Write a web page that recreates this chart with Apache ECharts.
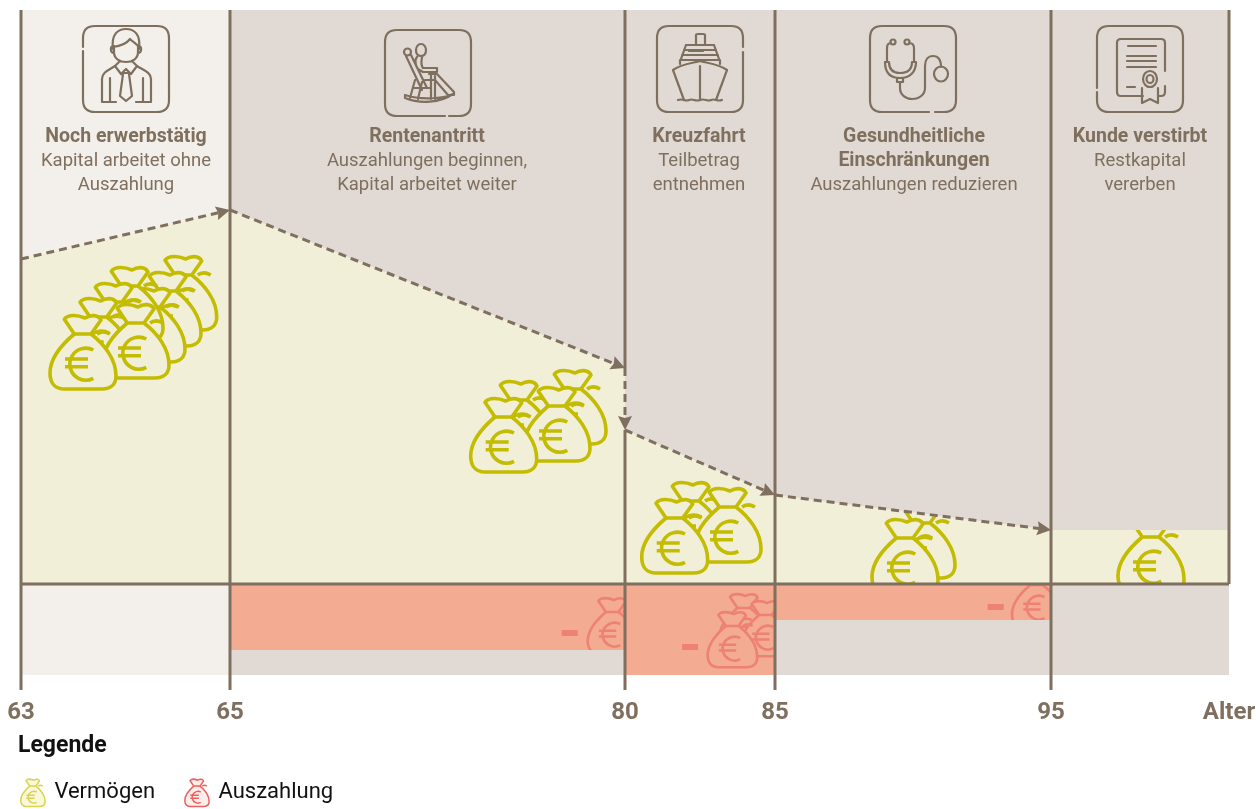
<!DOCTYPE html>
<html><head><meta charset="utf-8">
<style>html,body{margin:0;padding:0;background:#fff}#c{width:1256px;height:809px}</style>
<script src="https://cdn.jsdelivr.net/npm/echarts@6/dist/echarts.min.js"></script>
</head><body><div id="c"></div>
<script>
// ---- data ----
const ageLabels = ['63','65','80','85','95','Alter'];
const stageEdges = [0,209,604,754,1030,1208];
const wealthX = [0,209,604,604,754,1030,1030,1208];
const wealthY = [325,374,216,154,89,54,54,54];
const payoutStart = [209,604,754];
const payoutEnd = [604,754,1030];
const payoutY = [-66,-91,-36];
const titleLines = [['Noch erwerbstätig'],['Rentenantritt'],['Kreuzfahrt'],['Gesundheitliche','Einschränkungen'],['Kunde verstirbt']];
const textLines = [['Kapital arbeitet ohne','Auszahlung'],['Auszahlungen beginnen,','Kapital arbeitet weiter'],['Teilbetrag','entnehmen'],['Auszahlungen reduzieren'],['Restkapital','vererben']];
const textCenterX = [105,406,678,893,1119];
const textTopY = [447,447,447,447,447];
const iconX = [62,364,636,849,1076];
const iconY = [558,554,558,558,558];
const wealthBagX = [129.7,114,98,76,60,44.7,82,29, 519,465,503,449.7, 637,674,620.7, 868,851, 1097];
const wealthBagY = [329,313,297,318,302,287,281,270, 215,204,198,187, 103,97,86, 81,66, 67];
const payoutBagX = [566.7, 698.3,720,686.7, 991];
const payoutBagY = [-13, -9,-16,-27, 14];
const payoutBagBand = [0, 1,1,1, 2];
const minusX = [540.7,661,966.7];
const minusY = [-46,-60,-20];
const axisBottom = -106;

const BROWN='#7f6f5e', PALE='#f3f0eb', TAUPE='#e1dad4', CREAM='#f1efd8', SALMON='#f3ab91', RED='#ee8175', OLIVE='#c3bc00';
const FONT='Roboto';
const edge = 'M0,0L0,0M66,76L66,76';
const BAG = 'M14.3,5.3 C18,0 28,1 35,4 C40,1 48,0 51,6 L41,20 H24.3 Z M24.3,20 C10,32 0,45 0,59 C0,70 6,75 14,75 H52 C61,75 66,70 66,62 C66,45 54,30 41,20 M47,20 C51,17 55,17 60,20 M43.3,36 A16,16 0 1,0 43.3,64.3 M15,45 H38 M15,52.7 H38 ';
const ICONS = [
 'M0,25 V74 Q0,86 12,86 H74 Q86,86 86,74 V12 Q86,0 74,0 H12 Q0,0 0,12 V21 M30,23 C28,8 35,3 43,3 C51,3 58,8 56,23 M30,21 C38,20 44,17 47,13 C50,16 54,18 56,21 M31,20 V26 C31,33 37,36 43,36 C49,36 55,33 55,26 V20 M30,20 C27,20 27,27 31,27 M56,20 C59,20 59,27 55,27 M19,76 V53 C19,46 26,44 32,40 M54,40 C60,44 68,46 68,53 V76 M19,76 H33 M53,76 H68 M27,76 V52 M60,76 V52 M36,36 L32,40 L38,48 L43,43 L48,48 L54,40 L50,36 M40,48 L37,70 L43,75 L49,70 L46,48 M39,47 L47,47',
 'M64,86 H74 Q86,86 86,74 V12 Q86,0 74,0 H12 Q0,0 0,12 V74 Q0,86 12,86 H60 M36,14 C33,14 31,17 31,20 C31,24 33,26 36,26 C39,26 41,24 41,20 C41,17 39,14 36,14 M19,22 A3.5,3.5 0 1,1 26,22 A3.5,3.5 0 1,1 19,22 M21,26 L37,60 M26,25 L42,58 M32,27 C29,30 31,37 33,39 L38,42 H52 V38 H38 C35,34 37,29 37,27 M44,44 H52 L69,62 V65 L63,65 L50,50 H40 M20,68 C35,74 55,73 68,64 C58,69 35,70 20,65 Z M30,50 L25,68 M37,52 L33,69 M46,44 V69 M50,46 V69 M28,58 H46',
 'M86,26 V74 Q86,86 74,86 H12 Q0,86 0,74 V12 Q0,0 12,0 H74 Q86,0 86,12 V21 M39,19 V9 Q39,8 41,8 H46 Q48,8 48,9 V19 M29,19 H57 M29,19 L24,33 M57,19 L62,33 M27,24 H59 M32,25 H46 M25,29 H61 M23,34 H63 M23,34 V38 M63,34 V38 M16,44 C24,38 36,37 43,35 C50,37 62,38 70,44 L59,74 M16,44 L27,74 M43,40 V74 M21,74 C26,72 28,76 32,74 C36,72 38,76 43,74 C48,72 50,76 54,74 C58,72 60,76 65,74',
 'M65,86 H74 Q86,86 86,74 V12 Q86,0 74,0 H12 Q0,0 0,12 V74 Q0,86 12,86 H59 M20.5,16 A2.5,2.5 0 1,1 25.5,16 A2.5,2.5 0 1,1 20.5,16 M34.5,16 A2.5,2.5 0 1,1 39.5,16 A2.5,2.5 0 1,1 34.5,16 M21,17 C18,17 17,19 17,22 V36 M39,17 C42,17 44,19 44,22 V36 M15,36 H19 C19,44 24,47 30,47 C37,47 42,44 42,36 H46 C46,46 40,52 30,52 C20,52 15,46 15,36 Z M27,52 V56 H33 V52 M30,56 V62 C30,69 36,73 42,73 C50,73 55,68 55,62 V40 C55,34 58,30 63,30 C68,30 71,34 71,41 M64,48 A7,7.5 0 1,1 78,48 A7,7.5 0 1,1 64,48',
 'M0,66 V74 Q0,86 12,86 H74 Q86,86 86,74 V12 Q86,0 74,0 H12 Q0,0 0,12 V62 M46,70 H24 Q20,70 20,66 V17 Q20,13 24,13 H64 Q68,13 68,17 V45 M68,60 V66 Q68,70 64,70 H62 M31,20 H59 M30,30 H59 M30,35 H59 M30,41 H59 M30,61 H38 M46,53 A7,8 0 1,1 60,53 A7,8 0 1,1 46,53 M49.5,53 A3.5,4 0 1,1 56.5,53 A3.5,4 0 1,1 49.5,53 M45,62 V77 L53,73 L61,77 V62'
];

function custom(name,z,rows,fn){
  return {type:'custom',name,z,data:rows,silent:true,clip:false,animation:false,renderItem:fn,
    encode:{x:0,y:1},tooltip:{show:false}};
}
function wealthPoly(api){ const pts=wealthX.map((x,i)=>api.coord([x,wealthY[i]])); pts.push(api.coord([1208,0]),api.coord([0,0])); return pts; }
function bagEl(x,y,s,stroke,fill,w,clipPath){
  return {type:'path',shape:{pathData:edge+BAG,x,y,width:66*s,height:76*s,layout:'cover'},
    style:{stroke,fill,lineWidth:w,lineJoin:'round'},clipPath};
}
const dashSegments=[[0,1],[1,2],[2,3],[3,4],[4,5]];

const series=[
  custom('panels',1,stageEdges.slice(0,-1).map((x,i)=>[x,574,stageEdges[i+1],-91,i]),(p,api)=>{
    const a=api.coord([api.value(0),api.value(1)]),b=api.coord([api.value(2),api.value(3)]);
    return {type:'rect',shape:{x:a[0],y:a[1],width:b[0]-a[0],height:b[1]-a[1]},style:{fill:api.value(4)===0?PALE:TAUPE}};
  }),
  {type:'line',name:'area',z:2,data:wealthX.map((x,i)=>[x,wealthY[i]]),symbol:'none',silent:true,clip:false,
    lineStyle:{width:0},areaStyle:{color:CREAM,opacity:1,origin:0},animation:false},
  custom('payout',2,payoutStart.map((x,i)=>[x,0,payoutEnd[i],payoutY[i]]),(p,api)=>{
    const a=api.coord([api.value(0),api.value(1)]),b=api.coord([api.value(2),api.value(3)]);
    return {type:'rect',shape:{x:a[0],y:a[1],width:b[0]-a[0],height:b[1]-a[1]},style:{fill:SALMON}};
  }),
  custom('Vermögen',3,wealthBagX.map((x,i)=>[x,wealthBagY[i]]),(p,api)=>{
    const a=api.coord([api.value(0),api.value(1)]);
    return bagEl(a[0],a[1],1,OLIVE,CREAM,3.6,{type:'polygon',shape:{points:wealthPoly(api)}});
  }),
  custom('Auszahlung',3,payoutBagX.map((x,i)=>[x,payoutBagY[i],payoutBagBand[i]]),(p,api)=>{
    const a=api.coord([api.value(0),api.value(1)]),k=api.value(2);
    const c=api.coord([payoutStart[k],0]),d=api.coord([payoutEnd[k],payoutY[k]]);
    return bagEl(a[0],a[1],0.75,RED,SALMON,2.6,{type:'rect',shape:{x:c[0],y:c[1],width:d[0]-c[0],height:d[1]-c[1]}});
  }),
  custom('minus',3,minusX.map((x,i)=>[x,minusY[i]]),(p,api)=>{
    const a=api.coord([api.value(0),api.value(1)]);
    return {type:'rect',shape:{x:a[0],y:a[1],width:16,height:6},style:{fill:RED}};
  }),
  custom('rules',4,[
    [stageEdges[0],574,stageEdges[0],axisBottom],[stageEdges[1],574,stageEdges[1],axisBottom],
    [stageEdges[2],574,stageEdges[2],wealthY[2]],[stageEdges[2],wealthY[3],stageEdges[2],axisBottom],
    [stageEdges[3],574,stageEdges[3],axisBottom],[stageEdges[4],574,stageEdges[4],axisBottom],
    [stageEdges[5],574,stageEdges[5],0],[stageEdges[0],0,stageEdges[5],0]
  ],(p,api)=>{
    const a=api.coord([api.value(0),api.value(1)]),b=api.coord([api.value(2),api.value(3)]);
    return {type:'line',shape:{x1:a[0],y1:a[1],x2:b[0],y2:b[1]},style:{stroke:BROWN,lineWidth:3}};
  }),
  custom('path',5,dashSegments.map(s=>[wealthX[s[0]],wealthY[s[0]],wealthX[s[1]],wealthY[s[1]]]),(p,api)=>{
    const a=api.coord([api.value(0),api.value(1)]),b=api.coord([api.value(2),api.value(3)]);
    const ang=Math.atan2(b[1]-a[1],b[0]-a[0]),ux=Math.cos(ang),uy=Math.sin(ang),nx=-uy,ny=ux;
    const L=14,W=7,base=[b[0]-ux*L,b[1]-uy*L],notch=[b[0]-ux*(L-2),b[1]-uy*(L-2)];
    return {type:'group',children:[
      {type:'line',shape:{x1:a[0],y1:a[1],x2:notch[0],y2:notch[1]},style:{stroke:BROWN,lineWidth:3,lineDash:[8,5]}},
      {type:'polygon',shape:{points:[b,[base[0]+nx*W,base[1]+ny*W],notch,[base[0]-nx*W,base[1]-ny*W]]},style:{fill:BROWN}}
    ]};
  }),
  custom('icons',5,iconX.map((x,i)=>[x,iconY[i],i]),(p,api)=>{
    const a=api.coord([api.value(0),api.value(1)]);
    return {type:'path',shape:{pathData:ICONS[api.value(2)],x:a[0],y:a[1],width:86,height:86,layout:'cover'},
      style:{stroke:BROWN,fill:'none',lineWidth:2.2,lineJoin:'round',lineCap:'round'}};
  }),
  custom('texts',5,textCenterX.map((x,i)=>[x,textTopY[i],i]),(p,api)=>{
    const a=api.coord([api.value(0),api.value(1)]),i=api.value(2);
    const kids=[];let row=0;
    titleLines[i].forEach(t=>{kids.push({type:'text',x:a[0],y:a[1]+24*row++,style:{text:t,align:'center',verticalAlign:'middle',fill:BROWN,font:'bold 19.5px '+FONT}})});
    textLines[i].forEach(t=>{kids.push({type:'text',x:a[0],y:a[1]+24*row++,style:{text:t,align:'center',verticalAlign:'middle',fill:BROWN,font:'18.5px '+FONT}})});
    return {type:'group',children:kids};
  })
];

const chart=echarts.init(document.getElementById('c'),null,{renderer:'canvas'});
chart.setOption({
  animation:false,backgroundColor:'#fff',
  grid:{left:21,right:27,top:10,bottom:134,containLabel:false,outerBoundsMode:'none'},
  title:{text:'Legende',left:13,top:730,textStyle:{fontFamily:FONT,fontWeight:'bold',fontSize:23,color:'#111'}},
  legend:{left:20,top:778,padding:0,orient:'horizontal',selectedMode:false,itemWidth:25,itemHeight:28,itemGap:29,
    textStyle:{fontFamily:FONT,fontSize:22,color:'#111',padding:[3,0,0,4]},
    data:[
      {name:'Vermögen',icon:'path://'+edge+BAG,itemStyle:{color:'#f9f8dc',borderColor:'#d9d34f',borderWidth:1.5}},
      {name:'Auszahlung',icon:'path://'+edge+BAG,itemStyle:{color:'#fdeeea',borderColor:'#ec5f5f',borderWidth:1.5}}
    ]},
  xAxis:{type:'value',min:0,max:1208,splitLine:{show:false},axisLine:{show:false},axisTick:{show:false},
    axisLabel:{show:true,customValues:stageEdges,margin:26,fontFamily:FONT,fontWeight:'bold',fontSize:24,color:BROWN,
      formatter:v=>ageLabels[stageEdges.indexOf(v)]}},
  yAxis:{type:'value',min:-91,max:574,show:false,splitLine:{show:false}},
  series
});
</script></body></html>
